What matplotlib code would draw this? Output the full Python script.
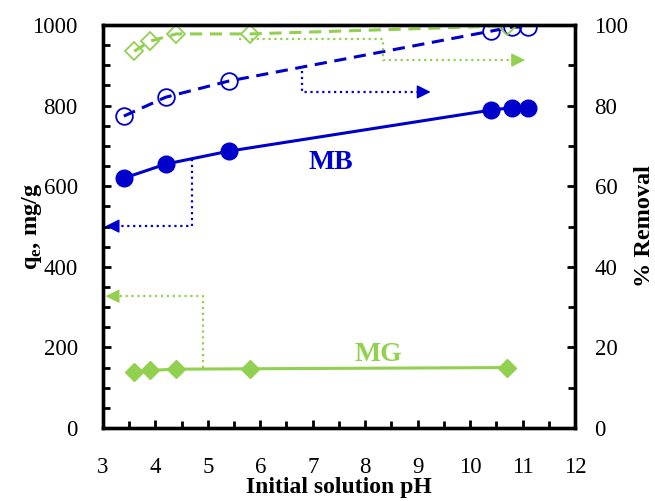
import matplotlib
matplotlib.use("Agg")
import matplotlib.pyplot as plt
from matplotlib.ticker import MultipleLocator

plt.rcParams['font.family'] = ['Liberation Serif', 'DejaVu Serif']
plt.rcParams['mathtext.fontset'] = 'custom'
plt.rcParams['mathtext.rm'] = 'Liberation Serif'
plt.rcParams['mathtext.bf'] = 'Liberation Serif:bold'

# data
ph_mb = [3.4, 4.2, 5.4, 10.4, 10.8, 11.1]
qe_mb = [620, 655, 687, 789, 795, 795]
rem_mb = [77.4, 82.1, 86.1, 98.5, 99.5, 99.5]

ph_mg = [3.6, 3.9, 4.4, 5.8, 10.7]
qe_mg = [140, 143, 146, 147, 150]
rem_mg = [93.5, 96.0, 97.8, 97.8, 99.8]

blue = '#0000CC'
green = '#92D050'

fig = plt.figure(figsize=(6.55, 5.01), dpi=100)
ax = fig.add_axes([0.157, 0.1457, 0.721, 0.8043])
ax2 = ax.twinx()

# qe (left axis)
ax.plot(ph_mb, qe_mb, '-o', color=blue, lw=2.2, ms=12)
ax.plot(ph_mg, qe_mg, '-D', color=green, lw=2.2, ms=9.5)

# % removal (right axis)
ax2.plot(ph_mb, rem_mb, '--o', color=blue, lw=2.2, ms=12,
         mfc='none', mew=1.3, dashes=(4, 2.5))
ax2.plot(ph_mg, rem_mg, '--D', color=green, lw=2.2, ms=9.5,
         mfc='none', mew=1.3, dashes=(4, 2.5))

# dotted guide arrows
arrow = dict(arrowstyle='-|>,head_length=0.6,head_width=0.3', lw=1.0,
             mutation_scale=14)
ax.plot([4.69, 4.69, 3.15], [667, 501, 501], ':', color=blue, lw=1.6)
ax.annotate('', xy=(3.0, 501), xytext=(3.25, 501),
            arrowprops=dict(arrow, color=blue))
ax.plot([4.9, 4.9, 3.15], [148, 327, 327], ':', color=green, lw=1.6)
ax.annotate('', xy=(3.0, 327), xytext=(3.25, 327),
            arrowprops=dict(arrow, color=green))
ax2.plot([6.8, 6.8, 9.1], [88.6, 83.4, 83.4], ':', color=blue, lw=1.6)
ax2.annotate('', xy=(9.3, 83.4), xytext=(9.05, 83.4),
             arrowprops=dict(arrow, color=blue))
ax2.plot([5.6, 8.33, 8.33, 10.9], [96.5, 96.5, 91.3, 91.3], ':',
         color=green, lw=1.6)
ax2.annotate('', xy=(11.1, 91.3), xytext=(10.85, 91.3),
             arrowprops=dict(arrow, color=green))

ax.text(7.35, 658, 'MB', color=blue, fontsize=20, fontweight='bold',
        ha='center', va='center')
ax.text(8.25, 182, 'MG', color=green, fontsize=20, fontweight='bold',
        ha='center', va='center')

ax.set_xlim(3, 12)
ax.set_ylim(0, 1000)
ax2.set_ylim(0, 100)

ax.xaxis.set_major_locator(MultipleLocator(1))
ax.xaxis.set_minor_locator(MultipleLocator(0.5))
ax.yaxis.set_major_locator(MultipleLocator(200))
ax.yaxis.set_minor_locator(MultipleLocator(50))
ax2.yaxis.set_major_locator(MultipleLocator(20))
ax2.yaxis.set_minor_locator(MultipleLocator(10))

for a in (ax, ax2):
    for s in a.spines.values():
        s.set_linewidth(2.4)
    a.tick_params(which='both', direction='in', width=2, labelsize=16.5, pad=14)
    a.tick_params(which='major', length=6)
    a.tick_params(which='minor', length=5)
ax.tick_params(axis='x', pad=21)
ax.tick_params(axis='y', pad=18)

ax.set_xlabel('Initial solution pH', fontsize=17, fontweight='bold', labelpad=-1)
ax.set_ylabel(r'q$_{\mathbf{e}}$, mg/g', fontsize=17.5, fontweight='bold', labelpad=-8)
ax2.set_ylabel('% Removal', fontsize=17.5, fontweight='bold', labelpad=4)

fig.savefig('out.png', dpi=100)
